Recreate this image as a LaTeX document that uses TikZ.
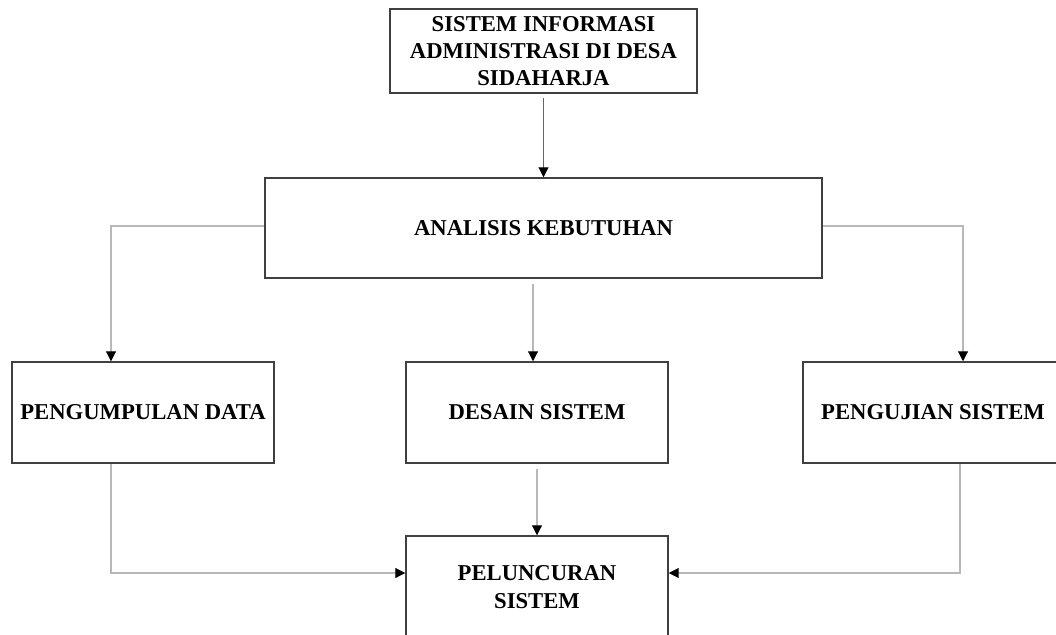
\documentclass[tikz,border=0pt]{standalone}
\usepackage{fontspec}
\setmainfont{Liberation Serif}
\usetikzlibrary{arrows.meta,calc}
\begin{document}
\begin{tikzpicture}[x=0.75pt,y=-0.75pt,font=\fontsize{17}{20.5}\selectfont\bfseries,
  box/.style={draw=black!75,line width=1.1pt,align=center,inner sep=2pt},
  link/.style={draw=black!28,line width=0.8pt,-{Triangle[length=7.5pt,width=7.5pt,color=black]}},
  darklink/.style={link,draw=black!60}]
  \useasboundingbox (0,0) rectangle (1056,635);
  \clip (0,0) rectangle (1056,635);
  \node[box,minimum width=230.25pt,minimum height=63pt] (sistem) at (543.5,51) {SISTEM INFORMASI\\ADMINISTRASI DI DESA\\SIDAHARJA};
  \node[box,minimum width=417.75pt,minimum height=75pt] (analisis) at (543.5,228) {ANALISIS KEBUTUHAN};
  \node[box,minimum width=196.5pt,minimum height=75.75pt] (kumpul) at (143,412.5) {PENGUMPULAN DATA};
  \node[box,minimum width=196.5pt,minimum height=75.75pt] (desain) at (537,412.5) {DESAIN SISTEM};
  \node[box,minimum width=195pt,minimum height=75.75pt] (uji) at (933,412.5) {PENGUJIAN SISTEM};
  \node[box,minimum width=196.5pt,minimum height=76.5pt] (luncur) at (537,587) {PELUNCURAN\\SISTEM};
  % turun ke analisis
  \draw[darklink] ($(analisis.north |- sistem.south)+(0,4)$) -- (analisis.north);
  % cabang dari analisis
  \draw[link] ($(analisis.west)+(0,-2)$) -| ($(kumpul.north)+(-32,0)$);
  \draw[link] ($(analisis.south)+(-10.5,5)$) -- ($(desain.north)+(-4,0)$);
  \draw[link] ($(analisis.east)+(0,-2)$) -| ($(uji.north)+(30,0)$);
  % menuju peluncuran
  \draw[link] ($(kumpul.south)+(-32,0)$) |- ($(luncur.west)+(0,-14)$);
  \draw[link] ($(desain.south)+(0,5)$) -- (luncur.north);
  \draw[link] ($(uji.south)+(27,0)$) |- ($(luncur.east)+(0,-14)$);
\end{tikzpicture}
\end{document}
